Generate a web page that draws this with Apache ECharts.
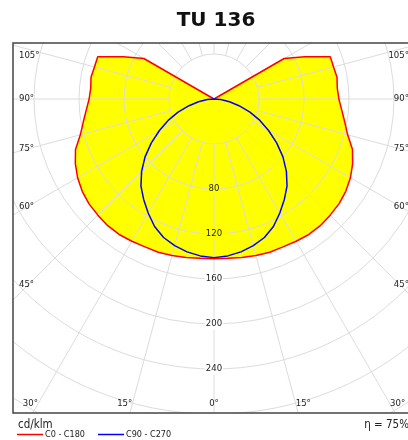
<!DOCTYPE html>
<html>
<head>
<meta charset="utf-8">
<script src="https://cdn.jsdelivr.net/npm/echarts@6/dist/echarts.min.js"></script>
<style>
html, body { margin: 0; padding: 0; background: #fff; }
#chart { width: 408px; height: 440px; }
</style>
</head>
<body>
<div id="chart"></div>
<script>
// gamma angles in degrees, intensities in cd/klm
var gammas = [0, 5, 10, 15, 20, 25, 30, 35, 40, 45, 50, 55, 60, 65, 70, 75, 80, 85, 90,
    95, 100, 105, 110, 115, 120, 125, 130, 135, 140, 145, 150, 155, 160, 165, 170, 175, 180];
var c0c180 = [142, 142, 143, 144, 145, 145, 146, 147, 147, 146, 145, 143, 140, 136, 131, 123, 118, 114, 111,
    110, 111, 110, 110, 89, 72, 0, 0, 0, 0, 0, 0, 0, 0, 0, 0, 0, 0];
var c90c270 = [141, 140, 138, 135, 131, 125, 117, 109, 101, 91, 80, 68, 56, 45, 34, 23, 14, 6, 0];
var ringLabels = [80, 120, 160, 200, 240];
var angleLabels = [0, 15, 30, 45, 60, 75, 90, 105];
var titleText = 'TU 136';
var unitText = 'cd/klm';
var etaText = 'η = 75%';

var chart = echarts.init(document.getElementById('chart'));

// layout of the diagram
var cx = 214, cy = 99;
var pxPerUnit = 1.125;
var rMax = 360;
var boxL = 13, boxT = 43, boxB = 413;
var boxR = cx + (cx - boxL);
var font = 'Tahoma, "DejaVu Sans Condensed", "Liberation Sans", sans-serif';
var gridColor = '#dcdcdc';

// full closed curve: left half at gamma, right half mirrored at 360 - gamma
function loop(vals) {
    var pts = [];
    for (var i = 0; i < vals.length; i++) pts.push([vals[i], gammas[i]]);
    for (var j = vals.length - 1; j >= 0; j--) pts.push([vals[j], 360 - gammas[j]]);
    return pts;
}

// angle labels sit along the spokes, just inside the frame
var angleTexts = [];
angleLabels.forEach(function (a) {
    var rad = a * Math.PI / 180;
    [-1, 1].forEach(function (s) {
        if (a === 0 && s > 0) return;
        var yBottom = boxB - 9;
        var ySide = a === 0 ? Infinity : cy + (cx - boxL - 15) * Math.cos(rad) / Math.sin(rad);
        var el = { type: 'text', z: 60, style: { text: a + '°', font: '9.5px ' + font, fill: '#222', verticalAlign: 'middle' } };
        if (a === 0) {
            el.x = cx; el.y = yBottom; el.style.align = 'center';
        } else if (ySide <= yBottom) {
            el.x = s < 0 ? boxL + 6 : boxR - 6;
            el.y = Math.max(ySide, boxT + 13);
            el.style.align = s < 0 ? 'left' : 'right';
        } else {
            el.x = cx + s * (yBottom - cy) * Math.tan(rad);
            el.y = yBottom;
            el.style.align = s < 0 ? 'right' : 'left';
        }
        angleTexts.push(el);
    });
});

var mask = { fill: '#fff' };
var graphics = [
    { type: 'rect', z: 50, shape: { x: 0, y: 0, width: 408, height: boxT }, style: mask },
    { type: 'rect', z: 50, shape: { x: 0, y: boxB, width: 408, height: 440 - boxB }, style: mask },
    { type: 'rect', z: 50, shape: { x: 0, y: 0, width: boxL, height: 440 }, style: mask },
    { type: 'rect', z: 50, shape: { x: boxR, y: 0, width: 40, height: 440 }, style: mask },
    { type: 'rect', z: 51, shape: { x: boxL, y: boxT, width: boxR - boxL, height: boxB - boxT },
        style: { fill: 'transparent', stroke: '#444', lineWidth: 1.5 } },
    { type: 'text', z: 60, x: cx + 2, y: 21,
        style: { text: titleText, font: 'bold 20px "DejaVu Sans", sans-serif', fill: '#111', align: 'center', verticalAlign: 'middle' } },
    { type: 'text', z: 60, x: 18, y: 425,
        style: { text: unitText, font: '11.5px ' + font, fill: '#222', align: 'left', verticalAlign: 'middle' } },
    { type: 'text', z: 60, x: 409, y: 425,
        style: { text: etaText, font: '11.5px ' + font, fill: '#222', align: 'right', verticalAlign: 'middle' } }
].concat(angleTexts);

const option = {
    animation: false,
    backgroundColor: '#fff',
    polar: [
        { center: [cx, cy], radius: [0, rMax * pxPerUnit] },
        { center: [cx, cy], radius: [40 * pxPerUnit, rMax * pxPerUnit] }
    ],
    angleAxis: [{
        polarIndex: 0, type: 'value', min: 0, max: 360, startAngle: 270, clockwise: true, show: false
    }, {
        polarIndex: 1, type: 'value', min: 0, max: 360, interval: 15, startAngle: 270, clockwise: true,
        z: 3,
        axisLine: { show: false },
        axisTick: { show: false },
        axisLabel: { show: false },
        splitLine: { show: true, lineStyle: { color: gridColor, width: 1 } }
    }],
    radiusAxis: [{
        polarIndex: 0, type: 'value', min: 0, max: rMax, show: false
    }, {
        polarIndex: 1, type: 'value', min: 40, max: rMax, interval: 40,
        z: 4,
        axisLine: { show: false },
        axisTick: { show: false },
        splitLine: { show: true, lineStyle: { color: gridColor, width: 1 } },
        axisLabel: {
            show: true,
            margin: 0,
            align: 'center',
            verticalAlign: 'middle',
            color: '#222',
            fontFamily: font,
            fontSize: 9.5,
            formatter: function (v) {
                if (ringLabels.indexOf(v) < 0) return '';
                // label background follows what lies beneath: the fill or the paper
                return v < c0c180[0] ? '{y|' + v + '}' : '{w|' + v + '}';
            },
            rich: {
                y: { backgroundColor: '#ffff00', padding: [1, 1], fontSize: 9.5, fontFamily: font, color: '#222' },
                w: { backgroundColor: '#ffffff', padding: [1, 1], fontSize: 9.5, fontFamily: font, color: '#222' }
            }
        }
    }],
    legend: {
        z: 60,
        left: 17,
        top: 430,
        padding: 0,
        icon: 'rect',
        itemWidth: 26,
        itemHeight: 1.5,
        itemGap: 13,
        textStyle: { fontFamily: font, fontSize: 9, color: '#222', padding: [0, 0, 0, -3] },
        data: ['C0 - C180', 'C90 - C270']
    },
    graphic: graphics,
    series: [{
        name: 'fill',
        type: 'line',
        coordinateSystem: 'polar',
        polarIndex: 0,
        z: 1,
        showSymbol: false,
        silent: true,
        lineStyle: { width: 0 },
        areaStyle: { color: '#ffff00', opacity: 1 },
        data: loop(c0c180)
    }, {
        name: 'C0 - C180',
        type: 'line',
        coordinateSystem: 'polar',
        polarIndex: 0,
        z: 5,
        showSymbol: false,
        itemStyle: { color: '#ff0000' },
        lineStyle: { color: '#ff0000', width: 1.5 },
        data: loop(c0c180)
    }, {
        name: 'C90 - C270',
        type: 'line',
        coordinateSystem: 'polar',
        polarIndex: 0,
        z: 5,
        showSymbol: false,
        itemStyle: { color: '#0000ff' },
        lineStyle: { color: '#0000ff', width: 1.5 },
        data: loop(c90c270)
    }]
};

chart.setOption(option);
</script>
</body>
</html>
